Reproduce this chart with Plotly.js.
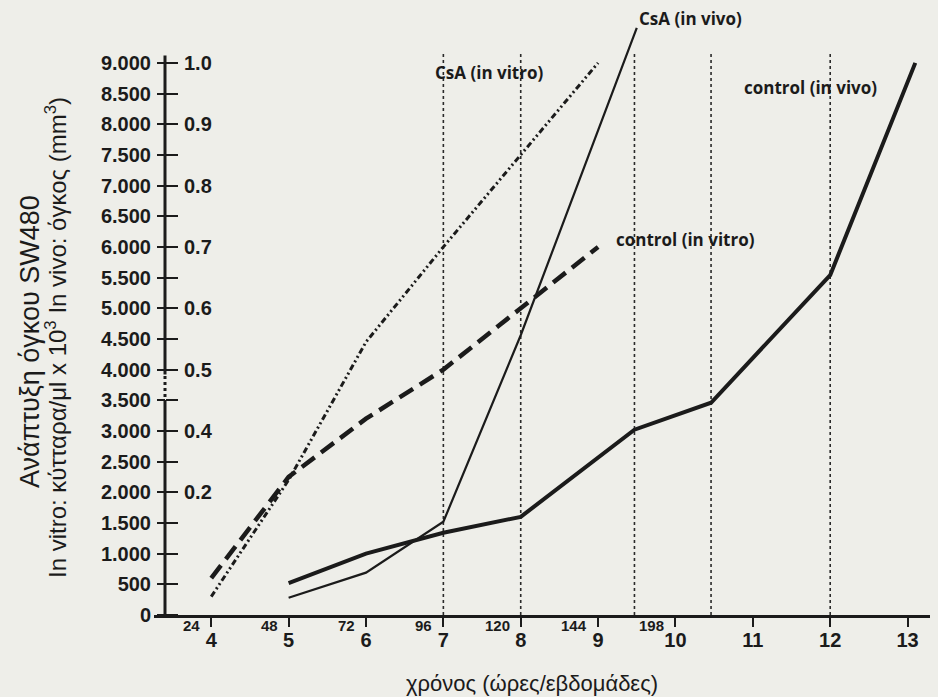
<!DOCTYPE html>
<html>
<head>
<meta charset="utf-8">
<script src="https://cdn.plot.ly/plotly-3.0.1.min.js"></script>
<style>html,body{margin:0;padding:0;background:#eeeee9;}</style>
</head>
<body>
<div id="chart" style="width:938px;height:697px;"></div>
<script>
// ---- data ----
const xTickVals = [4, 5, 6, 7, 8, 9, 10, 11, 12, 13];
const xTickText = ['4', '5', '6', '7', '8', '9', '10', '11', '12', '13'];
const hourTickVals = [4, 5, 6, 7, 8, 9, 10];
const hourLabels = ['24', '48', '72', '96', '120', '144', '198'];

const yTickVals = [0, 500, 1000, 1500, 2000, 2500, 3000, 3500, 4000, 4500, 5000, 5500, 6000, 6500, 7000, 7500, 8000, 8500, 9000];
const yLeftText = ['0', '500', '1.000', '1.500', '2.000', '2.500', '3.000', '3.500', '4.000', '4.500', '5.000', '5.500', '6.000', '6.500', '7.000', '7.500', '8.000', '8.500', '9.000'];
const yRightText = ['', '', '', '', '0.2', '', '0.4', '', '0.5', '', '0.6', '', '0.7', '', '0.8', '', '0.9', '', '1.0'];

const markerLines = [7, 8, 9.47, 10.46, 12];

const csaVitroX = [4, 5, 6, 7, 8, 9];
const csaVitroY = [300, 2200, 4450, 6000, 7500, 9000];
const ctrlVitroX = [4, 5, 6, 7, 8, 9];
const ctrlVitroY = [600, 2250, 3200, 4000, 5000, 6000];
const csaVivoX = [5, 6, 7, 8, 9.5];
const csaVivoY = [280, 690, 1520, 4560, 9570];
const ctrlVivoX = [5, 6, 7, 8, 9.47, 10.46, 12, 13.1];
const ctrlVivoY = [520, 1000, 1340, 1600, 3020, 3460, 5540, 9000];

const seriesLabels = ['CsA (in vivo)', 'CsA (in vitro)', 'control (in vitro)', 'control (in vivo)'];

// ---- layout helpers (pixel -> paper) ----
const W = 938, H = 697, L = 154, R = 8, T = 10, B = 82;
const PW = W - L - R, PH = H - T - B;
const px = v => (v - L) / PW;
const py = v => (H - B - v) / PH;

const ink = '#1b1b1b';
const tickFont = {family: 'Liberation Sans, Arial, sans-serif', size: 20, color: ink, weight: 700};
const labelFont = {family: 'Open Sans, DejaVu Sans, sans-serif', size: 17, color: ink, weight: 700};

const traces = [
  {x: csaVitroX, y: csaVitroY, mode: 'lines', line: {color: ink, width: 3, dash: '6px,3px,2px,3px,2px,3px'}, hoverinfo: 'skip'},
  {x: ctrlVitroX, y: ctrlVitroY, mode: 'lines', line: {color: ink, width: 4.5, dash: '16px,8px'}, hoverinfo: 'skip'},
  {x: csaVivoX, y: csaVivoY, mode: 'lines', line: {color: ink, width: 2.2}, hoverinfo: 'skip'},
  {x: ctrlVivoX, y: ctrlVivoY, mode: 'lines', line: {color: ink, width: 4}, hoverinfo: 'skip'},
  {x: [xTickVals[0]], y: [0], yaxis: 'y2', mode: 'markers', marker: {opacity: 0}, hoverinfo: 'skip'}
];

const yPos = px(165);
const shapes = [];
markerLines.forEach(v => shapes.push({type: 'line', xref: 'x', yref: 'y', x0: v, x1: v, y0: 0, y1: 9180,
  line: {color: '#2a2a2a', width: 1.6, dash: 'dot'}, layer: 'below'}));
shapes.push({type: 'line', xref: 'paper', yref: 'y', x0: yPos, x1: yPos, y0: 0, y1: 3456, line: {color: ink, width: 3}});
shapes.push({type: 'line', xref: 'paper', yref: 'y', x0: yPos, x1: yPos, y0: 3456, y1: 3920, line: {color: ink, width: 3, dash: 'dot'}});
shapes.push({type: 'line', xref: 'paper', yref: 'y', x0: yPos, x1: yPos, y0: 3920, y1: 9120, line: {color: ink, width: 3}});

const annotations = [];
const labelPos = [[690, 18], [489, 72], [685, 240], [810, 87]];
seriesLabels.forEach((t, i) => annotations.push({text: t, xref: 'paper', yref: 'paper', x: px(labelPos[i][0]), y: py(labelPos[i][1]),
  xanchor: 'center', yanchor: 'middle', showarrow: false, font: labelFont}));
hourTickVals.forEach((v, i) => annotations.push({text: hourLabels[i], xref: 'x', yref: 'paper', x: v, y: py(626),
  xanchor: 'right', yanchor: 'middle', xshift: v >= 10 ? -9 : -9, showarrow: false,
  font: {family: tickFont.family, size: 15, color: ink, weight: 700}}));
annotations.push({text: 'Ανάπτυξη όγκου SW480', xref: 'paper', yref: 'paper', x: px(30), y: py(342), textangle: -90,
  xanchor: 'center', yanchor: 'middle', showarrow: false, font: {family: 'Liberation Sans, Arial, sans-serif', size: 27, color: ink}});
annotations.push({text: 'In vitro: κύτταρα/μl x 10<sup>3</sup> In vivo: όγκος (mm<sup>3</sup>)', xref: 'paper', yref: 'paper', x: px(56), y: py(338), textangle: -90,
  xanchor: 'center', yanchor: 'middle', showarrow: false, font: {family: 'Liberation Sans, Arial, sans-serif', size: 24, color: ink}});
annotations.push({text: 'χρόνος (ώρες/εβδομάδες)', xref: 'paper', yref: 'paper', x: px(532), y: py(683),
  xanchor: 'center', yanchor: 'middle', showarrow: false, font: {family: 'Liberation Sans, Arial, sans-serif', size: 22, color: ink}});

const layout = {
  width: W, height: H,
  margin: {l: L, r: R, t: T, b: B, pad: 0},
  paper_bgcolor: '#eeeee9', plot_bgcolor: '#eeeee9',
  showlegend: false,
  xaxis: {range: [3.26, 13.29], showline: true, linecolor: ink, linewidth: 3, ticks: 'outside', ticklen: 9, tickwidth: 2,
    tickcolor: ink, tickmode: 'array', tickvals: xTickVals, ticktext: xTickText, tickfont: tickFont, ticklabelstandoff: -4,
    showgrid: false, zeroline: false, fixedrange: true},
  yaxis: {range: [0, 9862], anchor: 'free', position: yPos, side: 'left', showline: false, ticks: 'outside', ticklen: 8, tickwidth: 2,
    tickcolor: ink, tickmode: 'array', tickvals: yTickVals, ticktext: yLeftText, tickfont: tickFont, ticklabelstandoff: 2,
    showgrid: false, zeroline: false, fixedrange: true},
  yaxis2: {range: [0, 9862], overlaying: 'y', anchor: 'free', position: yPos, side: 'right', showline: false, ticks: 'outside', ticklen: 12, tickwidth: 2,
    tickcolor: ink, tickmode: 'array', tickvals: yTickVals, ticktext: yRightText, tickfont: tickFont, ticklabelstandoff: 2,
    showgrid: false, zeroline: false, fixedrange: true},
  shapes: shapes,
  annotations: annotations
};

Plotly.newPlot('chart', traces, layout, {staticPlot: true, displayModeBar: false});
</script>
</body>
</html>
